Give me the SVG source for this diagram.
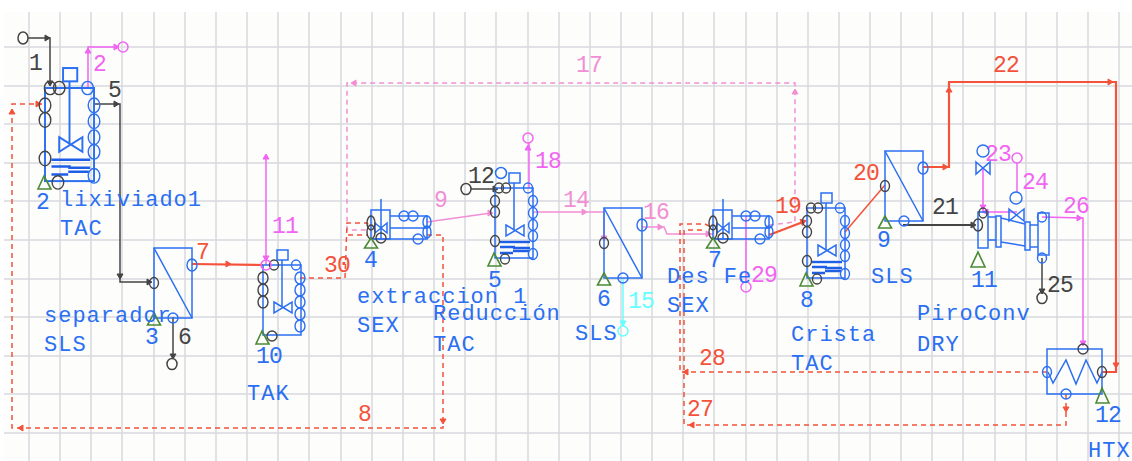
<svg xmlns="http://www.w3.org/2000/svg" width="1132" height="461" viewBox="0 0 1132 461">
<style>
.grid{stroke:#d6d9dd;stroke-width:1.5;fill:none}
.eq,.eq *{fill:none;stroke:#2b6ff2;stroke-width:1.5}
.eq *{vector-effect:non-scaling-stroke}
.bk{fill:none;stroke:#444;stroke-width:1.4;vector-effect:non-scaling-stroke}
.bl{fill:none;stroke:#2b6ff2;stroke-width:1.4;vector-effect:non-scaling-stroke}
.coil{stroke:#1f5fe8;stroke-width:2.4;fill:none;vector-effect:non-scaling-stroke}
.tri{fill:none;stroke:#4b8a35;stroke-width:1.6}
.s{fill:none;stroke:currentColor;stroke-width:1.5}
.t{stroke-width:2.2}
.d{stroke-dasharray:5 4}
.ah{fill:currentColor;stroke:currentColor;stroke-width:1}
.c-k{color:#444}.c-r{color:#f4523a}.c-m{color:#f264f2}.c-p{color:#f28fd4}.c-c{color:#66ffff}
text{font-family:"Liberation Mono","DejaVu Sans Mono",monospace}
.n{font-size:22px;letter-spacing:1px;fill:#2b6ff2}
.l{font-size:23px;letter-spacing:-.8px;fill:currentColor}
.lb{font-size:23px;letter-spacing:-.8px;fill:#2b6ff2}
</style>
<defs>
<path id="ah" class="ah" d="M-4,-3 L1,0 L-4,3 Z"/>
<g id="tankbody">
<rect x="0" y="0" width="38" height="70"/>
<rect x="14" y="-15" width="11" height="10"/>
<path d="M19,-5 V43 M11,37 L29,48 V37 L11,48 Z"/>
</g>
<g id="coils">
<path class="coil" d="M5,54 H35"/>
<path class="coil" d="M5,59 H20 M18,60 H35"/>
<path class="coil" d="M5,65 H18 M18,63 H34"/>
</g>
<g id="sep">
<rect x="0" y="0" width="38" height="70"/>
<path d="M0,0 L38,70"/>
<ellipse class="bl" cx="38" cy="17" rx="5" ry="6"/>
<ellipse class="bl" cx="19" cy="70" rx="5" ry="5"/>
<ellipse class="bk" cx="0" cy="35" rx="4.500" ry="5.500"/>
<path class="tri" d="M0,65 L6.500,77 H-6.500 Z"/>
</g>
<g id="sexbody">
<rect x="0" y="0" width="19" height="29"/>
<path d="M19,6 H56 V29 H0 M19,18 H56 M10,-11 V29 M4,13 L16,23 V13 L4,23 Z"/>
<ellipse class="bl" cx="33" cy="6" rx="5" ry="5"/>
<ellipse class="bl" cx="42" cy="6" rx="5" ry="5"/>
<ellipse class="bl" cx="47" cy="29" rx="5" ry="5"/>
<ellipse class="bl" cx="56" cy="12" rx="4" ry="6"/>
<ellipse class="bl" cx="56" cy="22" rx="4" ry="6"/>
<ellipse class="bk" cx="0" cy="13" rx="4" ry="7"/>
<ellipse class="bk" cx="0" cy="22" rx="4" ry="7"/>
<ellipse class="bk" cx="10" cy="28" rx="5" ry="5"/>
<path class="tri" d="M0,28 L6.500,38 H-6.500 Z"/>
</g>
<g id="tanknoz">
<ellipse class="bk" cx="4" cy="0" rx="4.500" ry="5"/><ellipse class="bk" cx="11" cy="0" rx="4.500" ry="5"/>
<ellipse class="bk" cx="0" cy="13" rx="4.500" ry="5.500"/><ellipse class="bk" cx="0" cy="24" rx="4.500" ry="5.500"/><ellipse class="bk" cx="0" cy="53" rx="4.500" ry="5.500"/><ellipse class="bk" cx="10" cy="71" rx="4.500" ry="5"/>
<ellipse class="bl" cx="33" cy="0" rx="4.500" ry="5"/>
<ellipse class="bl" cx="38" cy="13" rx="4.500" ry="5.500"/><ellipse class="bl" cx="38" cy="25" rx="4.500" ry="5.500"/><ellipse class="bl" cx="38" cy="37" rx="4.500" ry="5.500"/><ellipse class="bl" cx="38" cy="48" rx="4.500" ry="5.500"/><ellipse class="bl" cx="38" cy="66" rx="4.500" ry="5.500"/>
</g>
</defs>
<rect x="0" y="0" width="1132" height="461" fill="#ffffff"/>
<rect x="4" y="12" width="1128" height="449" fill="#fdfdfc"/>
<path class="grid" d="M29,12V461M60,12V461M91,12V461M122,12V461M154,12V461M185,12V461M216,12V461M247,12V461M278,12V461M309,12V461M341,12V461M372,12V461M403,12V461M434,12V461M465,12V461M496,12V461M528,12V461M559,12V461M590,12V461M621,12V461M652,12V461M683,12V461M714,12V461M746,12V461M777,12V461M808,12V461M839,12V461M870,12V461M901,12V461M932,12V461M963,12V461M995,12V461M1026,12V461M1057,12V461M1088,12V461M1119,12V461"/>
<path class="grid" d="M4,47H1132M4,86H1132M4,124H1132M4,163H1132M4,201H1132M4,240H1132M4,279H1132M4,317H1132M4,356H1132M4,394H1132M4,433H1132"/>

<g id="connectors">
<g class="c-k">
<polyline class="s" points="28,38 50,38 50,85"/><ellipse class="s" cx="23" cy="38" rx="5" ry="6"/>
<use href="#ah" transform="translate(49,38)"/><use href="#ah" transform="translate(50,85) rotate(90)"/>
<polyline class="s" points="94,104 120,104 120,282 150,282"/>
<use href="#ah" transform="translate(118,104)"/><use href="#ah" transform="translate(120,278) rotate(90)"/><use href="#ah" transform="translate(151,282)"/>
<polyline class="s" points="173,317 173,358"/><ellipse class="s" cx="172" cy="364" rx="5" ry="5.500"/><use href="#ah" transform="translate(173,358) rotate(90)"/>
<polyline class="s" points="471,189 497,189"/><ellipse class="s" cx="466" cy="189" rx="5" ry="5.500"/><use href="#ah" transform="translate(497,189)"/>
<polyline class="s t" points="903,225 974,225"/><use href="#ah" transform="translate(975,225)"/>
<polyline class="s" points="1042,258 1042,293"/><ellipse class="s" cx="1042" cy="298" rx="5" ry="5.500"/><use href="#ah" transform="translate(1042,293) rotate(90)"/>
<text class="l" x="29" y="70">1</text><text class="l" x="108" y="97">5</text><text class="l" x="178" y="344">6</text><text class="l" x="468" y="183">12</text><text class="l" x="932" y="214">21</text><text class="l" x="1047" y="292">25</text>
</g>
<g class="c-m">
<polyline class="s" points="88,88 88,47 118,47"/><circle class="s" cx="123" cy="47" r="5"/>
<use href="#ah" transform="translate(88,49) rotate(-90)"/><use href="#ah" transform="translate(118,47)"/>
<polyline class="s" points="266,265 266,156"/><use href="#ah" transform="translate(266,155) rotate(-90)"/><use href="#ah" transform="translate(266,260) rotate(90)"/>
<polyline class="s" points="529,188 529,143"/><circle class="s" cx="528" cy="138" r="5"/><use href="#ah" transform="translate(528,146) rotate(-90)"/>
<polyline class="s" points="746,216 746,282"/><circle class="s" cx="746" cy="287" r="5"/>
<polyline class="s" points="983,168 983,212 1017,212"/><use href="#ah" transform="translate(983,209) rotate(90)"/><use href="#ah" transform="translate(984,212) rotate(180)"/>
<polyline class="s" points="1017,163 1017,192"/><circle class="s" cx="1017" cy="158" r="5"/>
<polyline class="s" points="1042,217 1083,218 1083,345"/><use href="#ah" transform="translate(1081,218)"/><use href="#ah" transform="translate(1083,345) rotate(90)"/>
<text class="l" x="93" y="71">2</text><text class="l" x="272" y="233">11</text><text class="l" x="535" y="168">18</text><text class="l" x="751" y="282">29</text><text class="l" x="985" y="161">23</text><text class="l" x="1022" y="189">24</text><text class="l" x="1063" y="213">26</text>
</g>
<g class="c-p">
<polyline class="s d" points="769,225 795,222 795,83 347,83 347,230 371,230"/>
<use href="#ah" transform="translate(795,90) rotate(-90)"/><use href="#ah" transform="translate(352,83) rotate(180)"/>
<polyline class="s" points="427,222 491,213"/><use href="#ah" transform="translate(492,213)"/>
<polyline class="s" points="533,212 604,212 604,238"/><use href="#ah" transform="translate(586,212)"/><use href="#ah" transform="translate(604,240) rotate(90)"/>
<polyline class="s" points="642,227 664,227 667,234 713,234"/><use href="#ah" transform="translate(662,227)"/><use href="#ah" transform="translate(710,234)"/>
<text class="l" x="434" y="207">9</text><text class="l" x="563" y="207">14</text><text class="l" x="576" y="72">17</text><text class="l" x="643" y="219">16</text>
</g>
<g class="c-r">
<polyline class="s t" points="192,264 263,265"/><use href="#ah" transform="translate(230,264)"/>
<polyline class="s d" points="300,278 345,278 347,223 367,223 371,228"/>
<polyline class="s d" points="348,235 368,235"/>
<polyline class="s d" points="427,235 443,235 443,428 12,428 12,104 42,104"/>
<use href="#ah" transform="translate(443,423) rotate(90)"/><use href="#ah" transform="translate(19,428) rotate(180)"/><use href="#ah" transform="translate(12,110) rotate(-90)"/><use href="#ah" transform="translate(40,104)"/>
<polyline class="s d" points="1047,372 680,372 680,224 705,224 713,228"/><use href="#ah" transform="translate(684,372) rotate(180)"/>
<polyline class="s d" points="1066,394 1066,425 684,425 684,230 705,230"/><use href="#ah" transform="translate(690,425) rotate(180)"/><use href="#ah" transform="translate(1066,411) rotate(90)"/>
<polyline class="s t" points="769,235 803,222"/><use href="#ah" transform="translate(805,221) rotate(-20)"/>
<polyline class="s" points="845,232 885,185"/>
<polyline class="s t" points="923,167 949,167 949,82 1116,82 1116,372 1102,372"/>
<use href="#ah" transform="translate(947,167)"/><use href="#ah" transform="translate(949,88) rotate(-90)"/><use href="#ah" transform="translate(1112,82)"/><use href="#ah" transform="translate(1116,367) rotate(90)"/>
<text class="l" x="196" y="259">7</text><text class="l" x="324" y="272">30</text><text class="l" x="358" y="421">8</text><text class="l" x="775" y="213">19</text><text class="l" x="853" y="180">20</text><text class="l" x="993" y="72">22</text><text class="l" x="699" y="365">28</text><text class="l" x="687" y="416">27</text>
</g>
<g class="c-c">
<polyline class="s" points="623,279 623,326"/><circle class="s" cx="623" cy="331" r="5"/><use href="#ah" transform="translate(623,325) rotate(90)"/>
<text class="l" x="628" y="308">15</text>
</g>
</g>

<g id="node-2-lixiviado1">
<g class="eq" transform="translate(45,88) scale(1.29,1.33)"><use href="#tankbody"/><use href="#coils"/><use href="#tanknoz"/></g>
<path class="tri" d="M44,176 L51,189 H38 Z"/>
<text class="lb" x="36" y="209">2</text><text class="n" x="60" y="206">lixiviado1</text><text class="n" x="60" y="235">TAC</text>
</g>
<g id="node-3-separador">
<g class="eq" transform="translate(154,248)"><use href="#sep"/></g>
<text class="lb" x="145" y="344">3</text><text class="n" x="44" y="322">separador</text><text class="n" x="44" y="351">SLS</text>
</g>
<g id="node-10-tak">
<g class="eq" transform="translate(263,265)"><use href="#tankbody"/>
<ellipse class="bk" cx="11" cy="0" rx="4.500" ry="5"/>
<ellipse class="bk" cx="0" cy="13" rx="5" ry="6"/><ellipse class="bk" cx="0" cy="25" rx="5" ry="6"/><ellipse class="bk" cx="0" cy="37" rx="5" ry="6"/><ellipse class="bk" cx="9" cy="71" rx="5" ry="5"/>
<ellipse class="bl" cx="33" cy="0" rx="4.500" ry="5"/>
<ellipse class="bl" cx="37" cy="13" rx="5" ry="6"/><ellipse class="bl" cx="37" cy="25" rx="5" ry="6"/><ellipse class="bl" cx="37" cy="37" rx="5" ry="6"/><ellipse class="bl" cx="37" cy="49" rx="5" ry="6"/><ellipse class="bl" cx="37" cy="61" rx="5" ry="6"/>
</g>
<circle cx="266" cy="265" r="5" fill="none" stroke="#f264f2" stroke-width="1.6"/>
<path class="tri" d="M262,331 L269,344 H256 Z"/>
<text class="lb" x="256" y="363">10</text><text class="n" x="247" y="400">TAK</text>
</g>
<g id="node-4-extraccion">
<g class="eq" transform="translate(371,210)"><use href="#sexbody"/></g>
<text class="lb" x="364" y="267">4</text><text class="n" x="357" y="303">extraccion 1</text><text class="n" x="357" y="332">SEX</text>
</g>
<g id="node-5-reduccion">
<g class="eq" transform="translate(495,188)"><use href="#tankbody"/><use href="#coils"/><use href="#tanknoz"/></g>
<circle cx="501" cy="173" r="5.500" fill="none" stroke="#2b6ff2" stroke-width="1.500"/>
<path class="tri" d="M494,253 L501,266 H488 Z"/>
<text class="lb" x="488" y="287">5</text><text class="n" x="433" y="320">Reducción</text><text class="n" x="433" y="351">TAC</text>
</g>
<g id="node-6-sls">
<g class="eq" transform="translate(604,208)"><use href="#sep"/></g>
<text class="lb" x="597" y="306">6</text><text class="n" x="575" y="340">SLS</text>
</g>
<g id="node-7-des-fe">
<g class="eq" transform="translate(713,210)"><use href="#sexbody"/></g>
<text class="lb" x="708" y="267">7</text><text class="n" x="667" y="283">Des Fe</text><text class="n" x="667" y="312">SEX</text>
</g>
<g id="node-8-crista">
<g class="eq" transform="translate(807,208)"><use href="#tankbody"/><use href="#coils"/><use href="#tanknoz"/></g>
<path class="tri" d="M806,273 L813,286 H800 Z"/>
<text class="lb" x="800" y="307">8</text><text class="n" x="791" y="341">Crista</text><text class="n" x="791" y="370">TAC</text>
</g>
<g id="node-9-sls">
<g class="eq" transform="translate(885,151)"><use href="#sep"/></g>
<text class="lb" x="877" y="247">9</text><text class="n" x="871" y="283">SLS</text>
</g>
<g id="node-11-piroconv">
<g class="eq">
<rect x="978" y="212" width="10" height="36"/>
<rect x="996" y="216" width="5" height="31"/>
<rect x="1025" y="222" width="5" height="28"/>
<rect x="1038" y="213" width="11" height="42"/>
<path d="M988,217 H996 M1001,218 L1025,224 M988,240 H996 M1001,242 L1025,246 M1030,225 H1038 M1030,247 H1038"/>
<path d="M976,162 L990,174 V162 L976,174 Z M1009,209 L1024,221 V209 L1009,221 Z"/>
</g>
<circle class="bl" cx="983" cy="151" r="6"/><circle class="bl" cx="1016" cy="198" r="6"/>
<ellipse class="bl" cx="1042" cy="217" rx="4.500" ry="5"/><ellipse class="bl" cx="1042" cy="258" rx="4.500" ry="5"/>
<ellipse class="bk" cx="978" cy="225" rx="4.500" ry="6"/><ellipse class="bk" cx="983" cy="213" rx="4" ry="5"/>
<path class="tri" d="M978,252 L985,267 H971 Z"/>
<text class="lb" x="971" y="287">11</text><text class="n" x="917" y="320">PiroConv</text><text class="n" x="917" y="351">DRY</text>
</g>
<g id="node-12-htx">
<g class="eq">
<rect x="1047" y="349" width="55" height="45"/>
<path d="M1048,372 L1053,383 L1066,360 L1076,384 L1086,360 L1097,383 L1102,372"/>
</g>
<ellipse class="bl" cx="1047" cy="372" rx="4.500" ry="5.500"/><circle class="bl" cx="1066" cy="394" r="5"/>
<circle class="bk" cx="1083" cy="349" r="5"/><ellipse class="bk" cx="1102" cy="372" rx="4.500" ry="5.500"/>
<path class="tri" d="M1102,388 L1109,403 H1096 Z"/>
<text class="lb" x="1095" y="422">12</text><text class="n" x="1088" y="457">HTX</text>
</g>
</svg>
